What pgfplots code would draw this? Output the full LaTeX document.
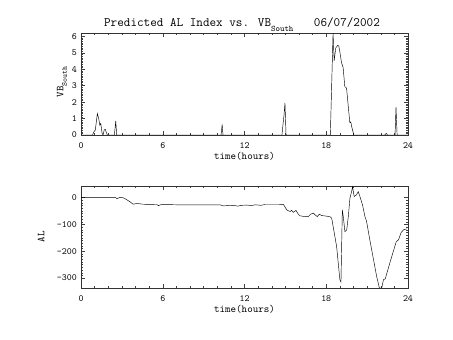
\documentclass[border=0pt]{standalone}
\usepackage{pgfplots}
\pgfplotsset{compat=1.18}
\begin{document}
\begin{tikzpicture}
\path[use as bounding box] (0pt,0pt) rectangle (453pt,340pt);
\pgfplotsset{
  myax/.style={
    scale only axis, width=327pt, height=102pt,
    anchor=south west,
    xmin=0, xmax=24,
    xtick={0,6,12,18,24}, xticklabels={0,6,12,18,24},
    minor x tick num=5,
    tick align=inside, xtick pos=both, ytick pos=both,
    major tick length=4pt, minor tick length=2pt,
    tick style={black!75, line width=0.3pt},
    axis line style={black!80, line width=0.4pt},
    ticklabel style={font=\fontsize{9.5}{10}\selectfont\ttfamily},
    xticklabel style={anchor=north, inner sep=0pt, yshift=-7pt},
    yticklabel style={anchor=east, inner sep=0pt, xshift=-4pt},
    xlabel={time(hours)},
    xlabel style={font=\fontsize{10.5}{11}\selectfont\ttfamily, at={(axis description cs:0.5,0)}, anchor=north, inner sep=0pt, yshift=-17pt},
    ylabel style={font=\fontsize{10.5}{11}\selectfont\ttfamily, anchor=center, inner sep=0pt},
    /pgf/number format/assume math mode=true,
  }
}
% Top panel: VB_South
\begin{axis}[myax, at={(81pt,205pt)},
  ymin=0, ymax=6.2,
  ytick={0,1,2,3,4,5,6}, yticklabels={0,1,2,3,4,5,6},
  minor y tick num=9,
  ylabel={VB\raisebox{-3.5pt}{\fontsize{7.5}{8}\selectfont South}},
  ylabel style={at={(axis description cs:-0.058,0.52)}},
]
\addplot[black, line width=0.45pt, mark=none] coordinates {
(0,0) (0.85,0) (0.95,0.2) (1.05,0.3) (1.2,1.3) (1.3,1.0) (1.38,0.6) (1.45,0.7)
(1.55,0.1) (1.62,0) (1.7,0.3) (1.78,0.35) (1.93,0) (2.45,0) (2.55,0.85) (2.62,0)
(10.28,0) (10.36,0.65) (10.42,0) (14.75,0) (14.82,0.6) (14.9,1.2) (14.97,1.95) (15.05,0)
(18.3,0) (18.5,6.2) (18.58,4.5) (18.7,5.3) (18.85,5.45) (18.92,5.4) (19.0,5.05)
(19.12,4.4) (19.24,4.1) (19.36,2.95) (19.49,2.85) (19.61,1.8) (19.73,0.75) (19.8,0.8)
(19.87,0.5) (20.02,0) (22.3,0) (22.4,0.1) (22.5,0) (23.05,0) (23.12,1.7) (23.2,0) (24,0)
};
\end{axis}
% Bottom panel: AL
\begin{axis}[myax, at={(81pt,52pt)},
  ymin=-337, ymax=43,
  ytick={-300,-200,-100,0}, yticklabels={-300,-200,-100,0},
  minor y tick num=9,
  ylabel={AL},
  ylabel style={at={(axis description cs:-0.122,0.5)}},
]
\addplot[black, line width=0.45pt, mark=none] coordinates {
(0,0) (2.55,0) (2.62,-4) (2.75,-2) (2.86,1) (3.05,0) (3.23,-4) (3.6,-16) (3.84,-25)
(4.09,-22) (4.58,-25) (5.55,-26) (5.68,-30) (5.9,-26) (7,-27) (8,-27) (9,-27) (10.2,-27)
(10.45,-31) (10.8,-30) (11.2,-29) (11.5,-32) (11.8,-29) (12.2,-28) (12.5,-30) (12.8,-27)
(13.2,-29) (13.5,-26) (14,-26) (14.5,-26) (14.85,-25) (15.1,-46) (15.34,-52) (15.46,-48)
(15.58,-55) (15.78,-48) (15.95,-62) (16.07,-68) (16.44,-71) (16.68,-71) (16.86,-62)
(17.05,-58) (17.17,-64) (17.34,-71) (17.49,-62) (17.66,-67) (18.27,-71) (18.4,-77)
(18.76,-182) (19.0,-306) (19.08,-315) (19.18,-46) (19.25,-71) (19.37,-127) (19.5,-121)
(19.62,-71) (19.74,-2) (19.86,22) (19.93,40) (20.05,4) (20.22,10) (20.35,22) (20.47,4)
(20.66,-27) (20.84,-71) (20.96,-89) (21.2,-158) (21.45,-226) (21.7,-294) (21.9,-337)
(22.07,-337) (22.2,-306) (22.33,-303) (22.7,-238) (23.14,-164) (23.3,-158) (23.5,-130)
(23.68,-120) (23.9,-117)
};
\end{axis}
\node[anchor=base, inner sep=0pt, font=\fontsize{12.8}{14}\selectfont\ttfamily] at (242pt,313pt)
  {Predicted AL Index vs. VB\raisebox{-4.5pt}{\fontsize{8.5}{9}\selectfont South}\hspace{1.6em}06/07/2002};
\end{tikzpicture}
\end{document}
